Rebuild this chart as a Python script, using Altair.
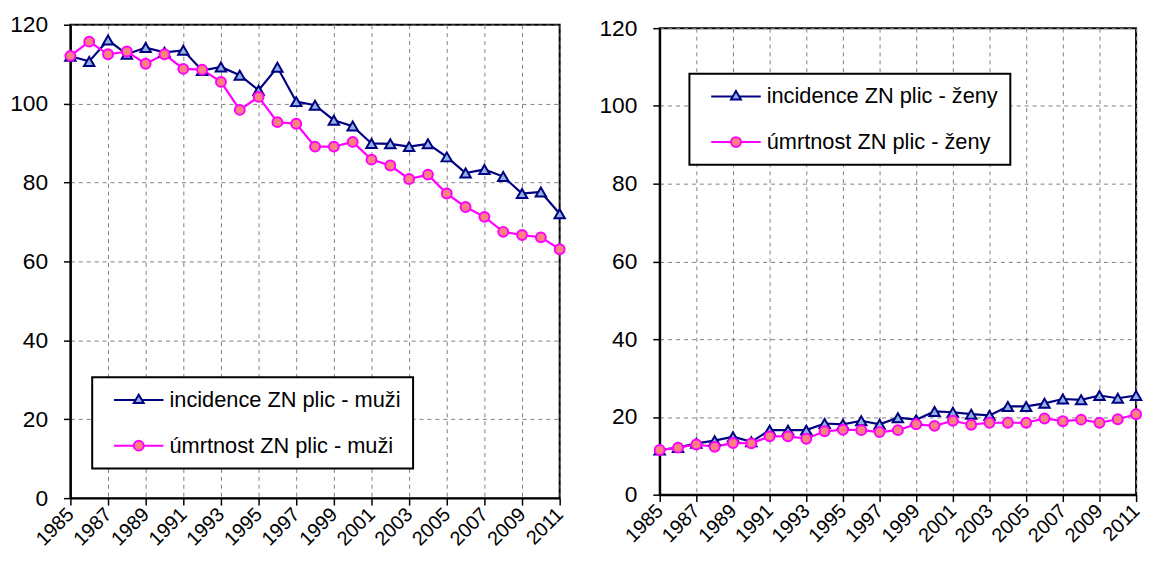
import altair as alt
import pandas as pd

years = list(range(1985, 2012))
m_inc = [112.0, 110.7, 116.1, 112.5, 114.2, 113.0, 113.5, 108.4, 109.3, 107.2, 103.4, 109.2, 100.5, 99.6,
         95.8, 94.3, 89.9, 89.8, 89.1, 89.8, 86.5, 82.4, 83.3, 81.5, 77.2, 77.6, 72.1]
m_mort = [112.1, 115.7, 112.5, 113.2, 110.1, 112.5, 108.8, 108.6, 105.5, 98.4, 101.7, 95.3, 94.9, 89.1,
          89.1, 90.3, 85.8, 84.3, 80.9, 82.0, 77.2, 73.8, 71.3, 67.5, 66.7, 66.1, 63.1]
f_inc = [11.5, 12.1, 13.2, 13.9, 14.9, 13.6, 16.6, 16.6, 16.6, 18.3, 18.1, 19.0, 18.1, 19.8,
         19.3, 21.4, 21.2, 20.7, 20.4, 22.7, 22.7, 23.5, 24.6, 24.4, 25.5, 24.8, 25.5]
f_mort = [11.5, 12.1, 12.9, 12.3, 13.3, 13.2, 15.0, 15.0, 14.4, 16.3, 16.7, 16.6, 16.1, 16.6,
          18.1, 17.7, 19.0, 18.0, 18.5, 18.5, 18.5, 19.6, 18.9, 19.3, 18.5, 19.4, 20.7]

labels_m = ["incidence ZN plic - muži", "úmrtnost ZN plic - muži"]
labels_f = ["incidence ZN plic - ženy", "úmrtnost ZN plic - ženy"]
x_ticks = list(range(1985, 2012, 2))
y_ticks = list(range(0, 121, 20))

NAVY = "#000080"
MAGENTA = "#ff00ff"
LBLUE = "#8fb4e3"
SALMON = "#ff8080"
FONT = "Liberation Sans"

TRI_PATH = "M-1,0H3.35M4.65,0H9M3,0.6L5,0.6L4,-1.1Z"
CIR_PATH = "M-1,0H3M5,0H9M5,0A1,1,0,1,1,3,0A1,1,0,1,1,5,0Z"


def panel(inc, mort, labs, lx, ly, w, h):
    df = pd.DataFrame({
        "rok": years + years,
        "hodnota": inc + mort,
        "serie": [labs[0]] * len(years) + [labs[1]] * len(years),
    })
    x = alt.X("rok:Q", scale=alt.Scale(domain=[1985, 2011], nice=False, zero=False),
              axis=alt.Axis(values=x_ticks, format="d", labelAngle=-45, labelAlign="right",
                            labelBaseline="middle", labelPadding=6, labelOverlap=False,
                            labelFontSize=20, title=None))
    y = alt.Y("hodnota:Q", scale=alt.Scale(domain=[0, 120], nice=False),
              axis=alt.Axis(values=y_ticks, labelPadding=16, labelFontSize=23, title=None))
    base = alt.Chart(df).encode(x=x, y=y)
    s_inc = base.transform_filter(alt.datum.serie == labs[0])
    s_mort = base.transform_filter(alt.datum.serie == labs[1])
    line_inc = s_inc.mark_line(stroke=NAVY, strokeWidth=2.2)
    line_mort = s_mort.mark_line(stroke=MAGENTA, strokeWidth=2.2)
    tri = s_inc.mark_point(shape="triangle-up", filled=True, fill=LBLUE, stroke=NAVY,
                           strokeWidth=2, size=110, opacity=1)
    cir = s_mort.mark_point(shape="circle", filled=True, fill=SALMON, stroke=MAGENTA,
                            strokeWidth=2, size=100, opacity=1)
    leg = alt.Legend(orient="none", legendX=lx, legendY=ly, title=None, labelFontSize=22,
                     labelFont=FONT, labelColor="black", labelLimit=600, symbolSize=100,
                     symbolStrokeWidth=2, symbolOpacity=1, labelOffset=40, padding=12,
                     rowPadding=24, symbolOffset=4, fillColor="white", strokeColor="black")
    legl = base.transform_filter(alt.datum.rok == 1985).mark_point(
        filled=True, opacity=0, strokeWidth=2).encode(
        shape=alt.Shape("serie:N", scale=alt.Scale(domain=labs, range=[TRI_PATH, CIR_PATH]), legend=leg),
        fill=alt.Fill("serie:N", scale=alt.Scale(domain=labs, range=[LBLUE, SALMON]), legend=leg),
        stroke=alt.Stroke("serie:N", scale=alt.Scale(domain=labs, range=[NAVY, MAGENTA]), legend=leg),
    )
    return alt.layer(line_inc, line_mort, tri, cir, legl).properties(width=w, height=h)


left = panel(m_inc, m_mort, labels_m, 22, 356, 494, 478)
right = panel(f_inc, f_mort, labels_f, 30, 46, 481, 471)

chart = alt.hconcat(left, right, spacing=27, center=True).resolve_scale(
    stroke="independent", fill="independent", shape="independent"
).configure(
    padding={"left": 0, "top": 2, "right": 0, "bottom": 0}, font=FONT
).configure_view(
    stroke="black", strokeWidth=2
).configure_axis(
    labelFont=FONT, labelFontSize=20, labelColor="black", domainColor="black", domainWidth=2,
    tickColor="black", tickWidth=1.5, tickSize=7, gridColor="#7f7f7f", gridDash=[4, 4], gridWidth=1
).configure_legend(
    strokeWidth=2
)

chart.save("out.html", embed_options={"renderer": "svg", "actions": False})
